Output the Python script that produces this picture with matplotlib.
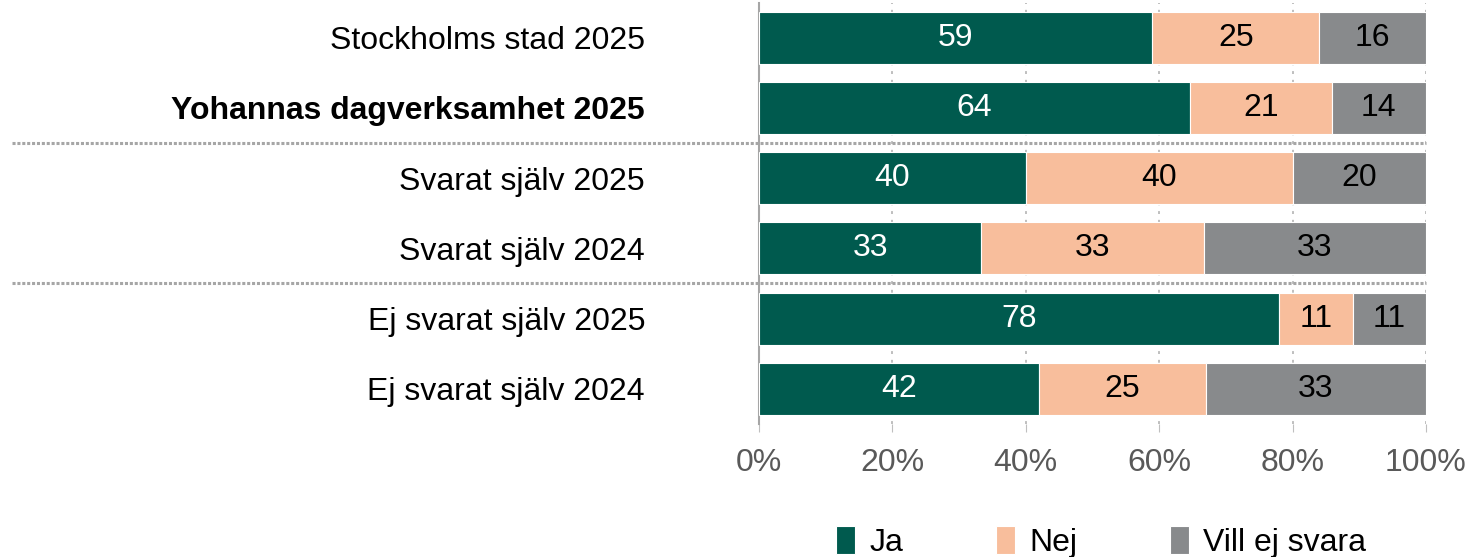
import numpy as np
import matplotlib.pyplot as plt
from matplotlib.transforms import blended_transform_factory

plt.rcParams['font.family'] = ['Liberation Sans', 'DejaVu Sans']

categories = ['Stockholms stad 2025', 'Yohannas dagverksamhet 2025',
              'Svarat själv 2025', 'Svarat själv 2024',
              'Ej svarat själv 2025', 'Ej svarat själv 2024']
ja = [59, 64, 40, 33, 78, 42]
nej = [25, 21, 40, 33, 11, 25]
vill_ej = [16, 14, 20, 33, 11, 33]
series_names = ['Ja', 'Nej', 'Vill ej svara']
colors = ['#005A4E', '#F8BE9C', '#888A8C']
text_colors = ['white', 'black', 'black']

data = np.array([ja, nej, vill_ej], dtype=float)
shares = data / data.sum(axis=0) * 100

fig = plt.figure(figsize=(14.78, 5.57), dpi=100)
ax = fig.add_axes([0.5135, 0.2388, 0.4513, 0.7567])

y = np.arange(len(categories))
left = np.zeros(len(categories))
for vals, share, name, col, tcol in zip(data, shares, series_names, colors, text_colors):
    ax.barh(y, share, left=left, height=0.74, color=col, edgecolor='white',
            linewidth=0.8, label=name, zorder=3)
    for yi, l, s, v in zip(y, left, share, vals):
        ax.text(l + s / 2, yi, f'{v:.0f}', ha='center', va='center',
                color=tcol, fontsize=23, zorder=4)
    left += share

ax.set_xlim(0, 100)
ax.set_ylim(len(categories) - 0.5, -0.5)
ax.set_xticks(np.arange(0, 101, 20))
ax.set_xticklabels([f'{t}%' for t in range(0, 101, 20)])
ax.set_yticks(y)
ax.set_yticklabels(categories)
for lbl in ax.get_yticklabels():
    if lbl.get_text().startswith('Yohannas'):
        lbl.set_fontweight('bold')

ax.tick_params(axis='y', length=0, pad=82, labelsize=23, labelcolor='black')
ax.tick_params(axis='x', length=6, color='#BFBFBF', labelsize=23,
               labelcolor='#595959', pad=11)
ax.grid(axis='x', color='#BFBFBF', linestyle=(0, (1.5, 3)), linewidth=1.4, zorder=0)
for side in ['top', 'right', 'bottom']:
    ax.spines[side].set_visible(False)
ax.spines['left'].set_color('#A6A6A6')
ax.spines['left'].set_linewidth(1.5)

# group separators spanning the label column and the bars
trans = blended_transform_factory(fig.transFigure, ax.transData)
for ys in [1.5, 3.5]:
    ax.plot([0.008, 0.965], [ys, ys], transform=trans, color='#A6A6A6',
            linewidth=2.2, linestyle=(0, (1, 0.6)), clip_on=False, zorder=5)

fig.legend(loc='lower center', bbox_to_anchor=(0.745, -0.053), ncol=3,
           frameon=False, fontsize=23, handlelength=0.6, handleheight=0.95,
           handletextpad=0.45, columnspacing=2.9)

fig.savefig('out.png', dpi=100)
